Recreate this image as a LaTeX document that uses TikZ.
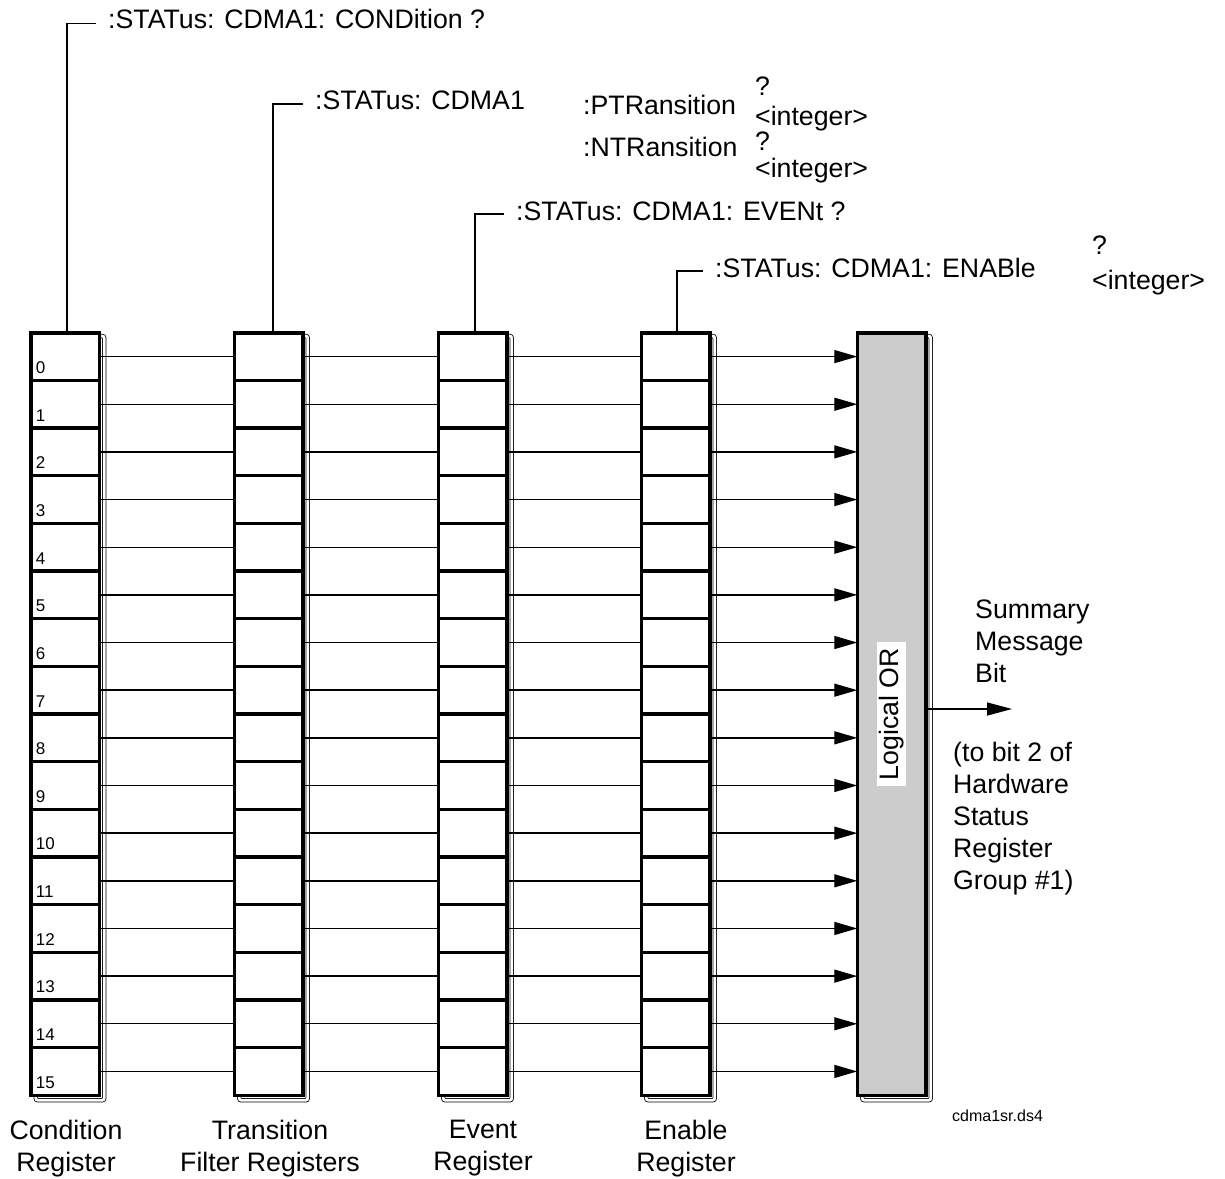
\documentclass[tikz,border=0pt]{standalone}
\usepackage{fontspec}
\setmainfont{Liberation Sans}
\usetikzlibrary{arrows.meta}
\newcommand\mybigtxt{\fontsize{26.7}{32}\selectfont}
\newcommand\mydigtxt{\fontsize{17}{20}\selectfont}
\newcommand\myfiletxt{\fontsize{16}{19}\selectfont}
\begin{document}
\begin{tikzpicture}[x=1pt,y=-1pt,
  cell/.style={draw, fill=white, line width=3.5pt, minimum width=68.5pt, minimum height=47.65625pt, inner sep=0pt, outer sep=0pt},
  orbox/.style={draw, fill=black!20, line width=3.5pt, minimum width=68.5pt, minimum height=762.5pt, inner sep=0pt, outer sep=0pt},
  shadowline/.style={line width=0.8pt, double=white, double distance=2.8pt, rounded corners=2pt},
  conn/.style={line width=1.4pt},
  arr/.style={line width=1.4pt, -{Triangle[length=23pt,width=13pt]}},
  lead/.style={line width=1.5pt},
  txt/.style={font=\mybigtxt, inner sep=0pt, anchor=base west},
  blk/.style={font=\mybigtxt, inner sep=0pt, align=left, anchor=north west},
  bot/.style={font=\mybigtxt, inner sep=0pt, align=center, anchor=north},
]
\useasboundingbox (0,0) rectangle (1225,1178);

% shadows
\foreach \xc in {65,268.5,472.5,675.5,891.5}
  \draw[shadowline] ({\xc-29.25},336) rectangle ({\xc+39.2},1100.2);

% register cells
\foreach \r/\xc in {C/65,T/268.5,E/472.5,N/675.5}
  \foreach \i in {0,...,15}
    \node[cell] (\r\i) at (\xc,{332.75+(\i+0.5)*47.65625}) {};

% logical OR box
\node[orbox] (OR) at (891.5,714) {};
\node[rotate=90, fill=white, font=\mybigtxt, inner xsep=6pt, inner ysep=2pt] (ortext) at (OR.center) {Logical OR};

% bit numbers
\foreach \i in {0,...,15}
  \node[font=\mydigtxt, anchor=base west, inner sep=0pt] (d\i) at ([xshift=5pt,yshift=7pt]C\i.south west) {\i};

% connectors
\foreach \i in {0,...,15}{
  \draw[conn] (C\i.east) -- (T\i.west);
  \draw[conn] (T\i.east) -- (E\i.west);
  \draw[conn] (E\i.east) -- (N\i.west);
  \draw[arr] (N\i.east) -- (OR.west |- N\i.east);
}

% top commands
\node[txt] (qcond) at (108,28.5) {:STATus: CDMA1: CONDition ?};
\node[txt] (qtrans) at (315,109) {:STATus: CDMA1};
\node[txt] (qevent) at (516,220) {:STATus: CDMA1: EVENt ?};
\node[txt] (qenable) at (715,277) {:STATus: CDMA1: ENABle};
\node[txt] (qenq) at (1092,254) {?};
\node[txt] (qenint) at (1092,289.5) {<integer>};

\node[txt] (ptr) at (583,114) {:PTRansition};
\node[txt] (ptrq) at (755,95) {?};
\node[txt] (ptri) at (755,125) {<integer>};
\node[txt] (ntr) at (583,156) {:NTRansition};
\node[txt] (ntrq) at (755,150) {?};
\node[txt] (ntri) at (755,177) {<integer>};

\coordinate (qcondL) at ([xshift=-12pt,yshift=5pt]qcond.base west);
\coordinate (qtransL) at ([xshift=-12pt,yshift=5pt]qtrans.base west);
\coordinate (qeventL) at ([xshift=-12pt,yshift=6pt]qevent.base west);
\coordinate (qenableL) at ([xshift=-12pt,yshift=6pt]qenable.base west);
\draw[lead] ([xshift=2pt]C0.north) |- (qcondL);
\draw[lead] ([xshift=4.5pt]T0.north) |- (qtransL);
\draw[lead] ([xshift=2.5pt]E0.north) |- (qeventL);
\draw[lead] ([xshift=1.5pt]N0.north) |- (qenableL);

% output
\coordinate (out) at (1012,709);
\draw[line width=1.4pt, -{Triangle[length=25pt,width=13pt]}] (OR.east |- out) -- (out);
\node[blk] (smb) at (975,600) {Summary\\Message\\Bit};
\node[blk] (dest) at (953,742) {(to bit 2 of\\Hardware\\Status\\Register\\Group \#1)};

% bottom labels
\node[bot] (lcond) at (66,1120) {Condition\\Register};
\node[bot] (ltrans) at (270,1120) {Transition\\Filter Registers};
\node[bot] (levent) at (483,1120) {Event\\Register};
\node[bot] (lenable) at (686,1120) {Enable\\Register};
\node[font=\myfiletxt, anchor=base west, inner sep=0pt] (fname) at (952,1121) {cdma1sr.ds4};
\end{tikzpicture}
\end{document}
